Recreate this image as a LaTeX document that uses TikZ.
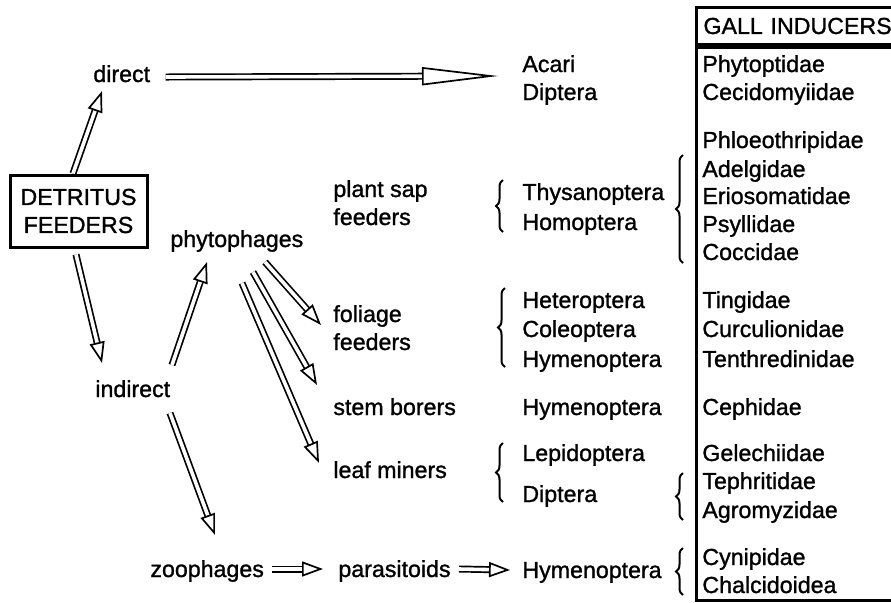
\documentclass[tikz,border=0pt]{standalone}
\usepackage{fontspec}
\setmainfont{Liberation Sans}[FakeBold=1.2]
\usetikzlibrary{arrows.meta, positioning, calc, decorations.pathreplacing}

\begin{document}
\begin{tikzpicture}[x=0.5pt, y=-0.5pt,
    every node/.style={inner sep=0pt, font=\fontsize{11.6}{14}\selectfont},
    lbl/.style={anchor=base west},
    framebox/.style={draw, line width=1.5pt},
    hollow/.style={double, double distance=1.8pt, line width=0.85pt,
        -{Triangle[open, length=10.5pt, width=7.5pt, line width=0.85pt]}},
    curly/.style={decorate, decoration={brace, amplitude=3.5pt}, line width=1pt}]
    \useasboundingbox (0,0) rectangle (891,602);
    \clip (0,0) rectangle (891,602);
    % left column
    \node[lbl] (direct) at (93,82) {direct};
    \node[framebox, minimum width=68.5pt, minimum height=36pt, align=center]
        (detritus) at (78.5,211) {DETRITUS\\FEEDERS};
    \node[lbl] (phyto) at (170,247) {phytophages};
    \node[lbl] (indirect) at (95,397) {indirect};
    \node[lbl] (zoo) at (150,577) {zoophages};
    % feeding groups
    \node[lbl] (sap) at (333,197) {plant sap};
    \node[lbl] (sapb) at (333,225) {feeders};
    \node[lbl] (foliage) at (333,322) {foliage};
    \node[lbl] (foliageb) at (333,350) {feeders};
    \node[lbl] (stem) at (333,415) {stem borers};
    \node[lbl] (leaf) at (333,478) {leaf miners};
    \node[lbl] (para) at (338,577) {parasitoids};
    % orders
    \node[lbl] (acari) at (522,72) {Acari};
    \node[lbl] (dipa) at (522,100) {Diptera};
    \node[lbl] (thys) at (522,200) {Thysanoptera};
    \node[lbl] (homo) at (522,230) {Homoptera};
    \node[lbl] (hete) at (522,308) {Heteroptera};
    \node[lbl] (cole) at (522,337) {Coleoptera};
    \node[lbl] (hyma) at (522,367) {Hymenoptera};
    \node[lbl] (hymb) at (522,415) {Hymenoptera};
    \node[lbl] (lepi) at (522,461) {Lepidoptera};
    \node[lbl] (dipb) at (522,502) {Diptera};
    \node[lbl] (hymc) at (522,578) {Hymenoptera};
    % gall inducers
    \node[framebox, anchor=north west, text width=100pt, inner xsep=3.5pt,
        minimum height=18.5pt] (gall) at (695,6) {GALL INDUCERS};
    \draw[line width=1.5pt] (900,47) -- (696,47) -- (696,600) -- (900,600);
    \foreach \fam/\y in {Phytoptidae/72, Cecidomyiidae/100, Phloeothripidae/148,
        Adelgidae/177, Eriosomatidae/204, Psyllidae/232, Coccidae/260,
        Tingidae/308, Curculionidae/337, Tenthredinidae/367, Cephidae/415,
        Gelechiidae/461, Tephritidae/489, Agromyzidae/518, Cynipidae/565,
        Chalcidoidea/593}
        \node[lbl] (\fam) at (702,\y) {\fam};
    % braces
    \draw[curly] (503,232) -- (503,180);
    \draw[curly] (505,367) -- (505,288);
    \draw[curly] (503,502) -- (503,443);
    \draw[curly] (683,263) -- (683,155);
    \draw[curly] (683,520) -- (683,473);
    \draw[curly] (683,595) -- (683,548);
    % arrows
    \draw[hollow] ([shift={(-5.5,0)}]detritus.north) -- ([shift={(9,9)}]direct.base west);
    \draw[hollow] ([shift={(-2.5,6)}]detritus.south) -- ([shift={(7,-34)}]indirect.base west);
    \draw[hollow] ([shift={(77,-32)}]indirect.base west) -- ([shift={(37,15)}]phyto.base west);
    \draw[hollow] ([shift={(75,16)}]indirect.base west) -- ([shift={(65,-42)}]zoo.base west);
    \draw[hollow] ([shift={(95,15)}]phyto.base west) -- ([shift={(-12,3)}]foliage.base west);
    \draw[hollow] ([shift={(83,25)}]phyto.base west) -- ([shift={(-16,-30)}]stem.base west);
    \draw[hollow] ([shift={(72,36)}]phyto.base west) -- ([shift={(-14,-15)}]leaf.base west);
    \draw[hollow] ([shift={(8,-8)}]zoo.base east) -- ([shift={(-15,-8)}]para.base west);
    \draw[hollow] ([shift={(8,-8)}]para.base east) -- ([shift={(-12,-8)}]hymc.base west);
    \draw[hollow, -{Triangle[open, length=38pt, width=9pt, line width=0.85pt]}]
        ([shift={(15,-5)}]direct.base east) -- ([shift={(-24,4)}]acari.base west);
\end{tikzpicture}
\end{document}
